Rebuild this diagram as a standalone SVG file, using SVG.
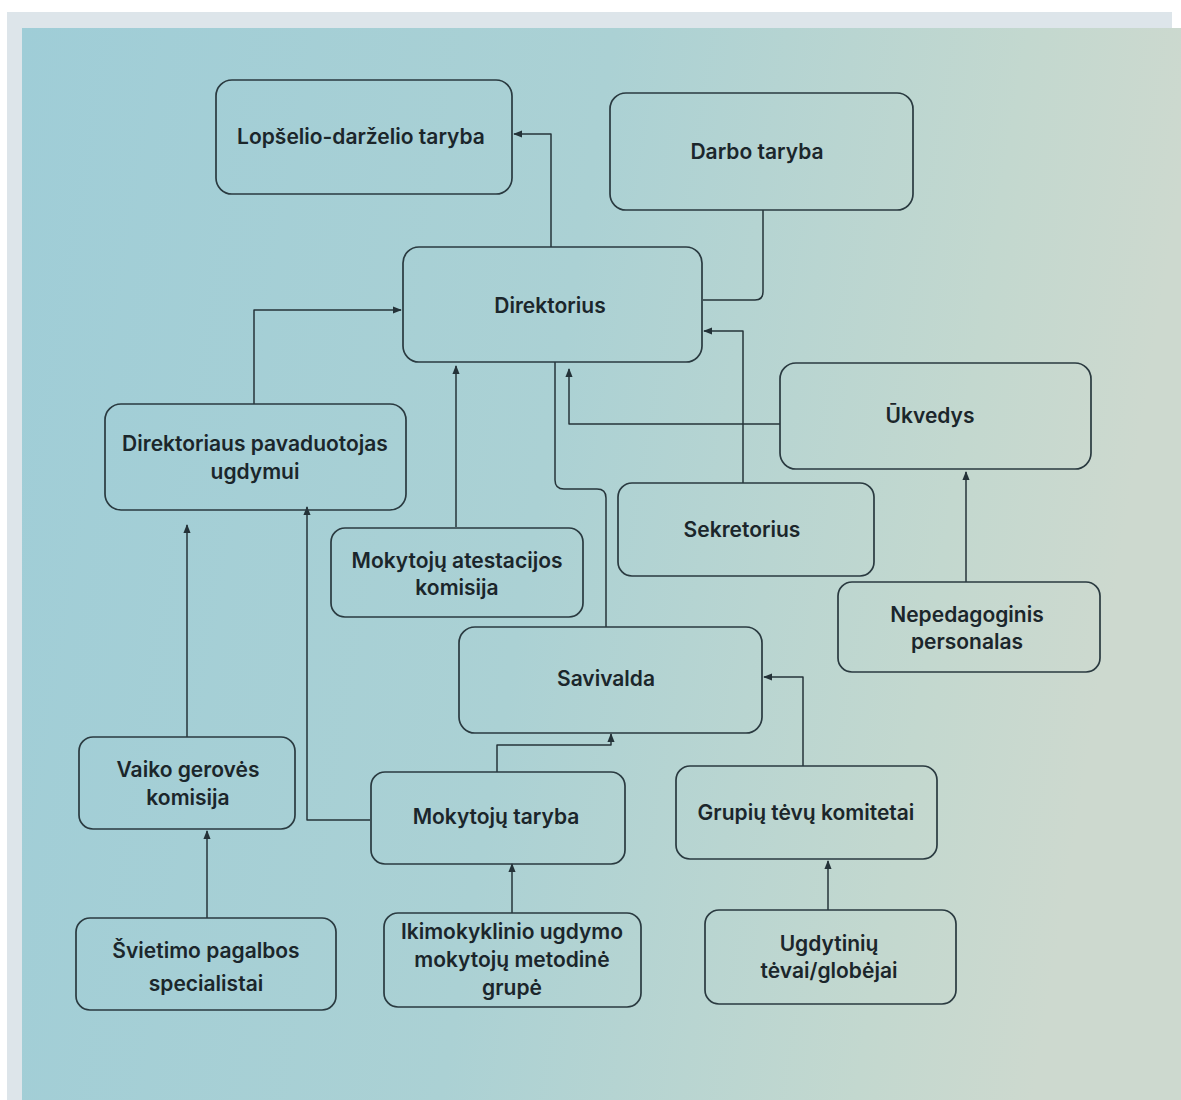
<svg xmlns="http://www.w3.org/2000/svg" width="1181" height="1100" viewBox="0 0 1181 1100">
<defs>
<linearGradient id="bg" x1="0" y1="0" x2="1" y2="0.15">
<stop offset="0" stop-color="#9fcdd7"/>
<stop offset="0.5" stop-color="#abd1d4"/>
<stop offset="0.85" stop-color="#c3d8cf"/>
<stop offset="1" stop-color="#cdd9cf"/>
</linearGradient>
<marker id="ah" viewBox="0 0 10 10" refX="9" refY="5" markerWidth="9" markerHeight="9" markerUnits="userSpaceOnUse" orient="auto">
<path d="M0,1 L10,5 L0,9 Z" fill="#243238"/>
</marker>
<style>
.box{fill:none;stroke:#2a3a40;stroke-width:1.7}
.t{font-family:Inter,"Noto Sans","Liberation Sans",sans-serif;font-size:21px;font-weight:600;fill:#1b262b;text-anchor:middle}
.c{fill:none;stroke:#26343a;stroke-width:1.5;stroke-linejoin:round}
.a{marker-end:url(#ah)}
</style>
</defs>
<rect x="0" y="0" width="1181" height="1100" fill="#ffffff"/>
<rect x="7" y="12" width="1165" height="1088" fill="#dde5ea"/>
<rect x="22" y="28" width="1159" height="1072" fill="url(#bg)"/>

<g id="connectors">
<path class="c a" d="M551,247 V134 H514"/>
<path class="c" d="M763,210 V292 Q763,300 755,300 H703"/>
<path class="c a" d="M254,404 V310 H401"/>
<path class="c a" d="M456,527 V366"/>
<path class="c a" d="M780,424 H569 V369"/>
<path class="c a" d="M743,483 V331 H704"/>
<path class="c" d="M555,362 V480 Q555,489 564,489 H597 Q606,489 606,498 V627"/>
<path class="c a" d="M966,582 V472"/>
<path class="c a" d="M187,737 V525"/>
<path class="c a" d="M370,820 H307 V507"/>
<path class="c a" d="M497,772 V745 H611 V734"/>
<path class="c a" d="M803,766 V677 H764"/>
<path class="c a" d="M207,918 V831"/>
<path class="c a" d="M512,913 V864"/>
<path class="c a" d="M828,910 V861"/>
</g>

<g id="n-lopselio"><rect class="box" x="216" y="80" width="296" height="114" rx="16"/><text class="t" x="361" y="144">Lopšelio-darželio taryba</text></g>
<g id="n-darbo"><rect class="box" x="610" y="93" width="303" height="117" rx="16"/><text class="t" x="757" y="159">Darbo taryba</text></g>
<g id="n-direktorius"><rect class="box" x="403" y="247" width="299" height="115" rx="16"/><text class="t" x="550" y="313">Direktorius</text></g>
<g id="n-pavaduotojas"><rect class="box" x="105" y="404" width="301" height="106" rx="16"/><text class="t" x="255" y="451">Direktoriaus pavaduotojas</text><text class="t" x="255" y="479">ugdymui</text></g>
<g id="n-atestacijos"><rect class="box" x="331" y="528" width="252" height="89" rx="14"/><text class="t" x="457" y="568">Mokytojų atestacijos</text><text class="t" x="457" y="595">komisija</text></g>
<g id="n-ukvedys"><rect class="box" x="780" y="363" width="311" height="106" rx="16"/><text class="t" x="930" y="423">Ūkvedys</text></g>
<g id="n-sekretorius"><rect class="box" x="618" y="483" width="256" height="93" rx="14"/><text class="t" x="742" y="537">Sekretorius</text></g>
<g id="n-nepedagoginis"><rect class="box" x="838" y="582" width="262" height="90" rx="14"/><text class="t" x="967" y="622">Nepedagoginis</text><text class="t" x="967" y="649">personalas</text></g>
<g id="n-savivalda"><rect class="box" x="459" y="627" width="303" height="106" rx="16"/><text class="t" x="606" y="686">Savivalda</text></g>
<g id="n-vaiko"><rect class="box" x="79" y="737" width="216" height="92" rx="14"/><text class="t" x="188" y="777">Vaiko gerovės</text><text class="t" x="188" y="805">komisija</text></g>
<g id="n-mokytoju-taryba"><rect class="box" x="371" y="772" width="254" height="92" rx="14"/><text class="t" x="496" y="824">Mokytojų taryba</text></g>
<g id="n-grupiu"><rect class="box" x="676" y="766" width="261" height="93" rx="14"/><text class="t" x="806" y="820">Grupių tėvų komitetai</text></g>
<g id="n-svietimo"><rect class="box" x="76" y="918" width="260" height="92" rx="14"/><text class="t" x="206" y="958">Švietimo pagalbos</text><text class="t" x="206" y="991">specialistai</text></g>
<g id="n-ikimokyklinio"><rect class="box" x="384" y="913" width="257" height="94" rx="14"/><text class="t" x="512" y="939">Ikimokyklinio ugdymo</text><text class="t" x="512" y="967">mokytojų metodinė</text><text class="t" x="512" y="995">grupė</text></g>
<g id="n-ugdytiniu"><rect class="box" x="705" y="910" width="251" height="94" rx="14"/><text class="t" x="829" y="951">Ugdytinių</text><text class="t" x="829" y="978">tėvai/globėjai</text></g>
</svg>
